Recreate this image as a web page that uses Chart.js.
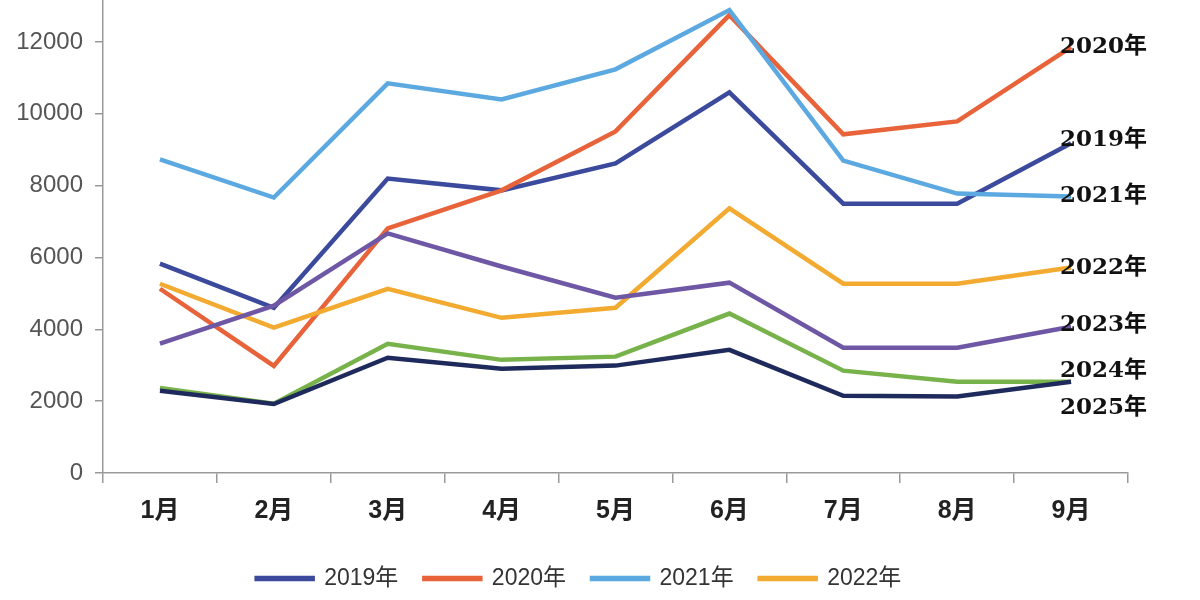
<!DOCTYPE html>
<html>
<head>
<meta charset="utf-8">
<script src="https://cdn.jsdelivr.net/npm/chart.js@4.4.1/dist/chart.umd.min.js"></script>
<style>
  html, body { margin: 0; padding: 0; background: #fff; }
  #wrap { width: 1200px; height: 600px; position: relative; }
</style>
</head>
<body>
<div id="wrap"><canvas id="graphique"></canvas></div>
<script>
// données
const mois = ['1月', '2月', '3月', '4月', '5月', '6月', '7月', '8月', '9月'];
const annees = ['2019年', '2020年', '2021年', '2022年', '2023年', '2024年', '2025年'];
const v2019 = [5830, 4600, 8200, 7870, 8620, 10600, 7500, 7500, 9180];
const v2020 = [5130, 2980, 6810, 7870, 9510, 12750, 9430, 9790, 11860];
const v2021 = [8730, 7670, 10850, 10400, 11240, 12890, 8700, 7780, 7700];
const v2022 = [5270, 4050, 5130, 4320, 4600, 7370, 5270, 5270, 5720];
const v2023 = [3600, 4660, 6670, 5750, 4880, 5300, 3490, 3490, 4070];
const v2024 = [2370, 1930, 3600, 3150, 3240, 4440, 2850, 2540, 2540];
const v2025 = [2290, 1920, 3210, 2900, 2990, 3430, 2150, 2130, 2540];
const graduationsY = [0, 2000, 4000, 6000, 8000, 10000, 12000];
const couleurs = ['#3b4a9c', '#e8623a', '#5ba9e0', '#f2aa30', '#6e58a6', '#78b24a', '#1f2a5c'];

const series = [v2019, v2020, v2021, v2022, v2023, v2024, v2025];

// étiquettes en bout de courbe
const etiquettesFin = {
  id: 'etiquettesFin',
  afterDatasetsDraw(chart, args, opts) {
    const ctx = chart.ctx;
    ctx.save();
    ctx.font = opts.font;
    ctx.fillStyle = opts.color;
    ctx.textBaseline = 'middle';
    ctx.textAlign = 'left';
    chart.data.datasets.forEach((ds, i) => {
      const meta = chart.getDatasetMeta(i);
      const pt = meta.data[meta.data.length - 1];
      const dy = opts.decalage[ds.label] || 0;
      ctx.fillText(ds.label, pt.x - 11, pt.y + dy);
    });
    ctx.restore();
  }
};

new Chart(document.getElementById('graphique'), {
  type: 'line',
  data: {
    labels: mois,
    datasets: series.map((vals, i) => ({
      label: annees[i],
      data: vals,
      borderColor: couleurs[i],
      backgroundColor: couleurs[i],
      borderWidth: 4.5,
      pointRadius: 0,
      tension: 0,
      clip: false,
      order: series.length - i
    }))
  },
  options: {
    responsive: true,
    maintainAspectRatio: false,
    animation: false,
    layout: { padding: { top: 0, right: 42, bottom: 0, left: 0 } },
    scales: {
      x: {
        offset: true,
        grid: { offset: true, drawOnChartArea: false, drawTicks: true, tickLength: 10, color: '#999', lineWidth: 1.5 },
        border: { color: '#999', width: 1.5 },
        ticks: { color: '#222', font: { family: 'Liberation Sans, Noto Sans CJK SC', size: 25, weight: 'bold' }, padding: 13 },
        afterFit(scale) { scale.height = 68; scale.paddingRight = 72; }
      },
      y: {
        min: 0,
        max: 13170,
        grid: { drawOnChartArea: false, drawTicks: true, tickLength: 8, color: '#999', lineWidth: 1.5 },
        border: { color: '#999', width: 1.5 },
        ticks: { autoSkip: false, color: '#555', font: { family: 'Liberation Sans', size: 24 }, padding: 12, callback: v => String(v) },
        afterBuildTicks(scale) { scale.ticks = graduationsY.map(v => ({ value: v })); },
        afterFit(scale) { scale.width = 103; scale.paddingTop = 0; }
      }
    },
    plugins: {
      legend: {
        position: 'bottom',
        labels: {
          boxWidth: 56,
          boxHeight: 1,
          padding: 26,
          color: '#333',
          font: { family: 'Liberation Sans, Noto Sans CJK SC', size: 23 },
          filter: item => item.datasetIndex < 4,
          sort: (a, b) => a.datasetIndex - b.datasetIndex
        }
      },
      tooltip: { enabled: false },
      etiquettesFin: {
        font: 'bold 23px "DejaVu Serif", "Noto Sans CJK SC"',
        color: '#111',
        decalage: { '2019年': -3, '2023年': -2, '2024年': -11, '2025年': 26 }
      }
    }
  },
  plugins: [etiquettesFin]
});
</script>
</body>
</html>
